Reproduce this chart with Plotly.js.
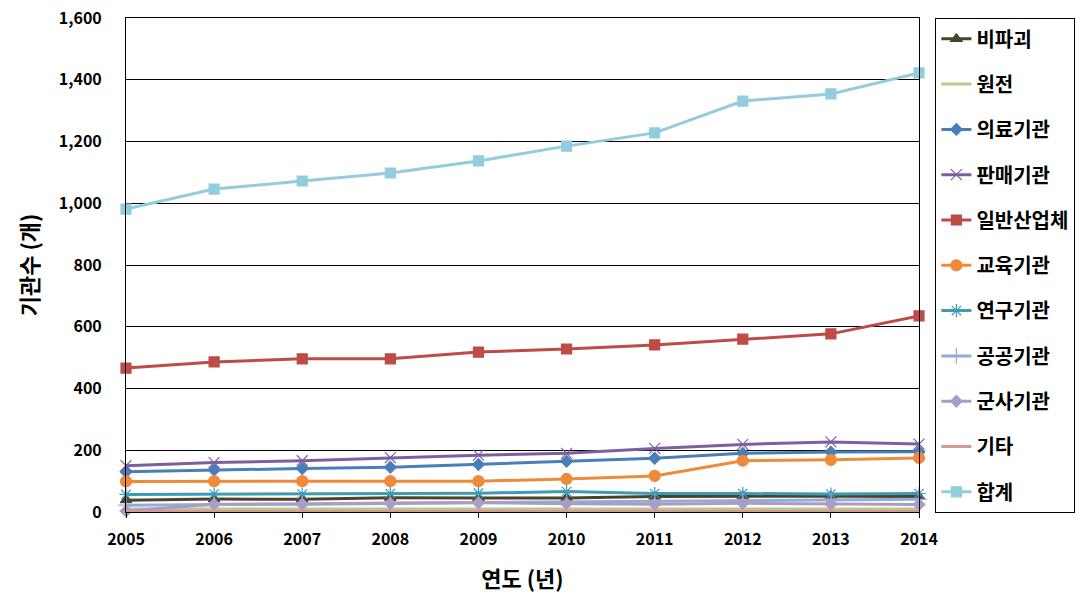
<!DOCTYPE html>
<html>
<head>
<meta charset="utf-8">
<script src="https://cdn.plot.ly/plotly-3.0.1.min.js"></script>
<style>html,body{margin:0;padding:0;background:#fff;}#chart{width:1086px;height:600px;}</style>
</head>
<body>
<div id="chart"></div>
<script>
const years = [2005, 2006, 2007, 2008, 2009, 2010, 2011, 2012, 2013, 2014];
const seriesNames = ["비파괴", "원전", "의료기관", "판매기관", "일반산업체", "교육기관", "연구기관", "공공기관", "군사기관", "기타", "합계"];
const ndt      = [38, 42, 41, 46, 45, 45, 50, 51, 51, 50];
const nuclear  = [10, 10, 10, 10, 10, 10, 10, 10, 10, 10];
const medical  = [130, 136, 141, 145, 154, 164, 174, 190, 194, 195];
const sales    = [150, 160, 166, 176, 184, 190, 206, 219, 227, 220];
const industry = [466, 486, 496, 496, 518, 528, 541, 560, 577, 635];
const education= [99, 100, 100, 100, 100, 107, 117, 166, 169, 175];
const research = [57, 58, 58, 60, 61, 66, 60, 60, 58, 60];
const publicOrg= [22, 25, 27, 29, 31, 33, 33, 37, 39, 41];
const military = [3, 25, 25, 28, 30, 27, 25, 28, 26, 24];
const others   = [2, 2, 2, 2, 2, 2, 2, 2, 2, 2];
const total    = [981, 1046, 1072, 1098, 1137, 1185, 1228, 1331, 1354, 1422];
const yTicks   = [0, 200, 400, 600, 800, 1000, 1200, 1400, 1600];

const values = [ndt, nuclear, medical, sales, industry, education, research, publicOrg, military, others, total];
const colors = ["#4A452A", "#B3CC8C", "#4A7EBB", "#7D5FA0", "#BE4B48", "#EE8A3A", "#3E9BB5", "#94ABD6", "#AB9CC7", "#D99694", "#93CDDD"];
const symbols = ["triangle-up", null, "diamond", "x-thin-open", "square", "circle", "asterisk-open", "cross-thin-open", "diamond", null, "square"];
const sizes = [10, 0, 9, 11, 10, 11, 11, 11, 9, 0, 10];

const traces = seriesNames.map((name, i) => {
  const t = {
    x: years, y: values[i], name: name, type: "scatter",
    mode: symbols[i] ? "lines+markers" : "lines",
    line: {color: colors[i], width: 3},
    legendgroup: "g" + i,
    cliponaxis: false
  };
  if (symbols[i]) {
    t.marker = {symbol: symbols[i], size: sizes[i], color: colors[i], line: {color: colors[i], width: 1.2}};
  }
  return t;
});

const fontFamily = "'Noto Sans CJK KR', 'Noto Sans', sans-serif";
const layout = {
  width: 1086, height: 600,
  margin: {l: 126, r: 166, t: 18, b: 88},
  paper_bgcolor: "#fff", plot_bgcolor: "#fff",
  font: {family: fontFamily, color: "#000"},
  showlegend: true,
  legend: {
    x: 1.019, xanchor: "left", y: 1.0, yanchor: "top",
    bordercolor: "#000", borderwidth: 1.3, bgcolor: "#fff",
    font: {size: 20, family: fontFamily, weight: "bold"},
    tracegroupgap: 16.3,
    traceorder: "grouped",
    maxheight: 590
  },
  xaxis: {
    type: "linear", range: [2005, 2014], tickvals: years, ticktext: years.map(String),
    showgrid: false, zeroline: false,
    showline: true, linecolor: "#000", linewidth: 1, mirror: true,
    ticks: "outside", ticklen: 5, tickcolor: "#000", ticklabelstandoff: 8,
    tickfont: {size: 16, weight: "bold"},
    title: {text: "연도 (년)", font: {size: 22, weight: "bold"}, standoff: 22}
  },
  yaxis: {
    range: [0, 1600], tickvals: yTicks, ticktext: yTicks.map(v => v.toLocaleString("en-US")),
    showgrid: true, gridcolor: "#000", gridwidth: 1,
    zeroline: false,
    showline: true, linecolor: "#000", linewidth: 1, mirror: true,
    ticks: "", ticklabelstandoff: 20,
    tickfont: {size: 16, weight: "bold"},
    title: {text: "기관수 (개)", font: {size: 22, weight: "bold"}, standoff: 14}
  }
};

Plotly.newPlot("chart", traces, layout, {displayModeBar: false, staticPlot: true});
</script>
</body>
</html>
